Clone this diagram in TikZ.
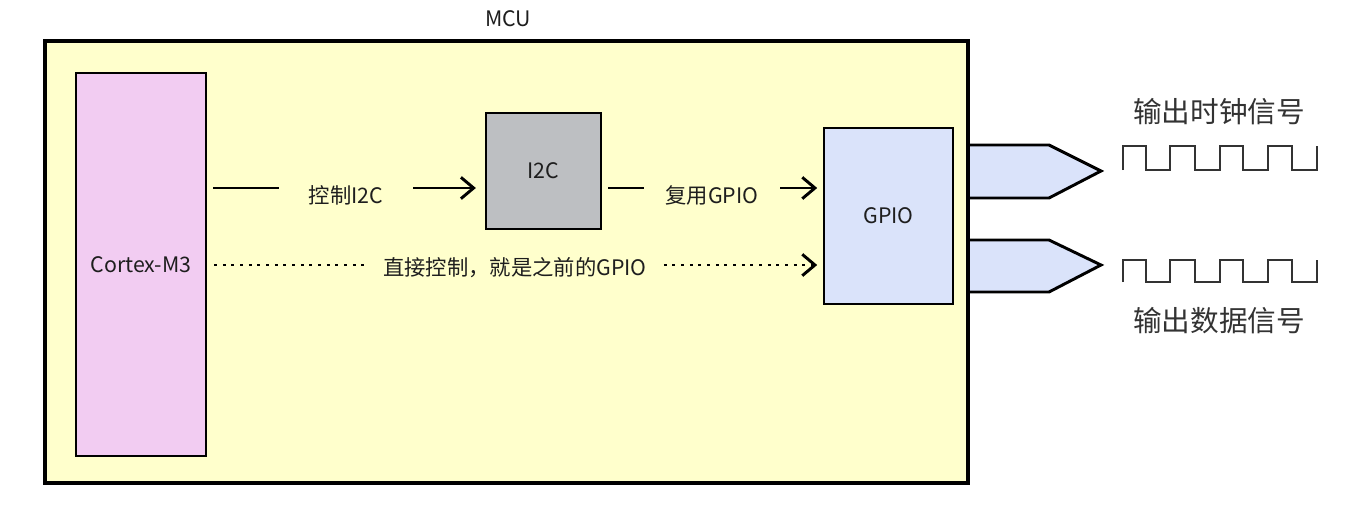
\documentclass[tikz,border=0pt]{standalone}
\usepackage{fontspec}
\setmainfont{Noto Sans CJK SC}
\usetikzlibrary{arrows.meta}
\definecolor{mcuY}{HTML}{FFFFCC}
\definecolor{cortexP}{HTML}{F2CCF2}
\definecolor{i2cG}{HTML}{BDBFC2}
\definecolor{gpioB}{HTML}{DAE3FA}
\definecolor{txt}{HTML}{1E1E1E}
\definecolor{wave}{HTML}{333333}
\begin{document}
\begin{tikzpicture}[x=0.75pt,y=-0.75pt,
  box/.style={draw=black, line width=2.2pt, inner sep=0pt, font=\fontsize{16}{19}\selectfont, text=txt},
  lbl/.style={inner ysep=0pt, font=\fontsize{16}{19}\selectfont, text=txt},
  conn/.style={line width=2.2pt},
  tipbarb/.style={-{Straight Barb[length=9.5pt,width=16pt]}},
  arr/.style={conn, tipbarb},
  dotline/.style={line width=2.2pt, dash pattern=on 2.2pt off 4.3pt},
  pinshape/.style={draw=black, line width=2.2pt, fill=gpioB, line join=miter},
  sig/.style={draw=wave, line width=2.2pt},
  big/.style={font=\fontsize{21.5}{25}\selectfont, text=wave}]
\useasboundingbox (0,0) rectangle (1369,515);
% pins (drawn before the MCU so its border covers their left ends)
\path[pinshape] (968,145) -- (1049,145) -- (1101,171) -- (1049,198) -- (968,198);
\path[pinshape] (968,240) -- (1049,240) -- (1101,265) -- (1049,292) -- (968,292);
% boxes
\node[box, line width=2.7pt, fill=mcuY, minimum width=692.25pt, minimum height=331.5pt] (mcu) at (506.5,262) {};
\node[lbl] (mcul) at (508,19) {MCU};
\node[box, fill=cortexP, minimum width=97.5pt, minimum height=287.25pt, text depth=-2.5pt] (cortex) at (141,264.5) {Cortex-M3};
\node[box, fill=i2cG, minimum width=86.25pt, minimum height=87pt] (i2c) at (543.5,171) {I2C};
\node[box, fill=gpioB, minimum width=96.75pt, minimum height=132pt] (gpio) at (888.5,216) {GPIO};
% labels
\coordinate (r1) at (0,188);
\coordinate (r2) at (0,265);
\node[lbl, inner xsep=22.5pt] (l1) at (346,195) {控制I2C};
\node[lbl, inner xsep=16pt] (l2) at (712,195) {复用GPIO};
\node[lbl, inner xsep=12.5pt] (l3) at (515,268) {直接控制，就是之前的GPIO};
% connectors
\draw[conn, shorten <=4.5pt] (cortex.east |- r1) -- (l1.west |- r1);
\draw[arr, shorten >=6.5pt] (l1.east |- r1) -- (i2c.west |- r1);
\draw[conn, shorten <=4.5pt] (i2c.east |- r1) -- (l2.west |- r1);
\draw[arr, shorten >=4pt] (l2.east |- r1) -- (gpio.west |- r1);
\draw[dotline, shorten <=5pt] (cortex.east |- r2) -- (l3.west |- r2);
\draw[dotline, tipbarb, shorten >=4pt] (l3.east |- r2) -- (gpio.west |- r2);
% waveforms
\draw[sig] (1123,170) -- (1123,146) -- (1146,146) -- (1146,170) -- (1170,170) -- (1170,146) -- (1195,146) -- (1195,170) -- (1220,170) -- (1220,146) -- (1243,146) -- (1243,170) -- (1268,170) -- (1268,146) -- (1292,146) -- (1292,170) -- (1317,170) -- (1317,146);
\draw[sig] (1123,282) -- (1123,260) -- (1146,260) -- (1146,282) -- (1170,282) -- (1170,260) -- (1195,260) -- (1195,282) -- (1220,282) -- (1220,260) -- (1243,260) -- (1243,282) -- (1268,282) -- (1268,260) -- (1292,260) -- (1292,282) -- (1317,282) -- (1317,260);
% signal names
\node[big] (clk) at (1219,112) {输出时钟信号};
\node[big] (dat) at (1219,321) {输出数据信号};
\end{tikzpicture}
\end{document}
